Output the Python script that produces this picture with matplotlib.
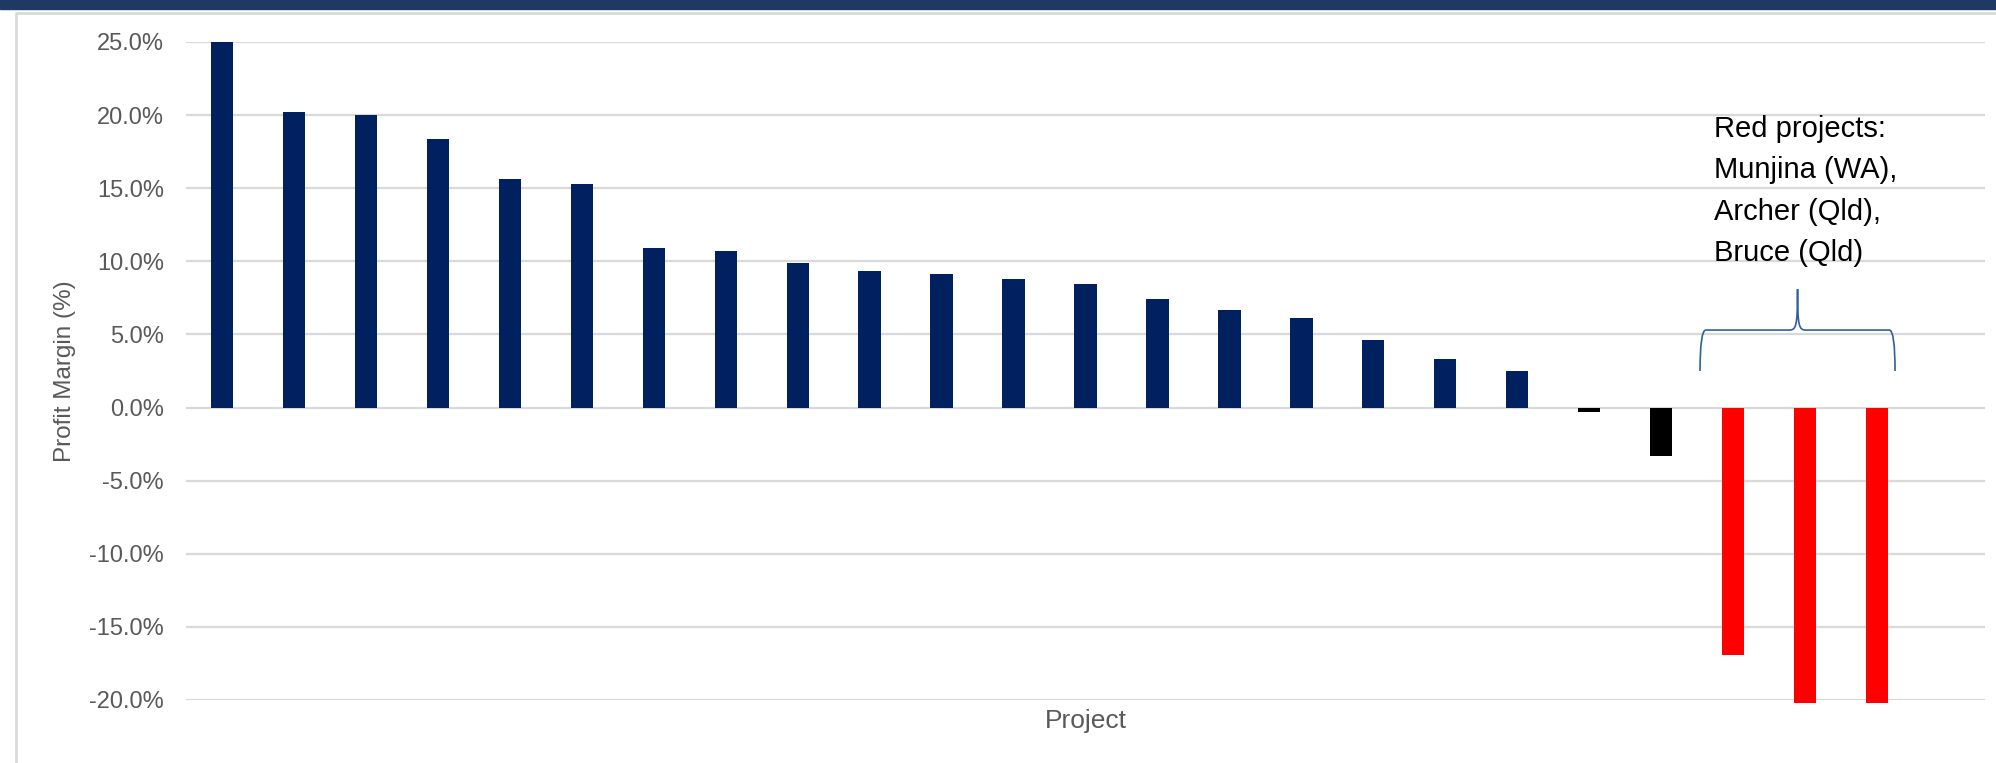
"""Profit margin by project, sorted high to low, red projects bracketed."""

import matplotlib
matplotlib.use("Agg")
import matplotlib.pyplot as plt
import numpy as np
from matplotlib.path import Path as MPath
from matplotlib.patches import PathPatch
from matplotlib.ticker import FuncFormatter, MultipleLocator

plt.rcParams["font.family"] = ["Liberation Sans", "DejaVu Sans"]

# Profit margin (%) per project
margins = [25.0, 20.2, 20.0, 18.4, 15.6, 15.3, 10.9, 10.7, 9.9, 9.35,
           9.1, 8.8, 8.45, 7.4, 6.65, 6.1, 4.65, 3.3, 2.5, -0.3,
           -3.3, -16.9, -20.2, -20.2]
status = ["ok"] * 19 + ["loss"] * 2 + ["red"] * 3
note = "Red projects:\nMunjina (WA),\nArcher (Qld),\nBruce (Qld)"

NAVY, GRID, TXT = "#002060", "#d9d9d9", "#595959"
COLORS = {"ok": NAVY, "loss": "#000000", "red": "#ff0000"}

W, H, DPI = 1996, 763, 100
fig = plt.figure(figsize=(W / DPI, H / DPI), dpi=DPI)

# header band + chart frame
fig.patches.append(plt.Rectangle((0, 1 - 9 / H), 1, 9 / H, transform=fig.transFigure,
                                 color="#1f3864", zorder=0))
fig.lines.append(plt.Line2D([16 / W, 16 / W, 1], [0, 1 - 13 / H, 1 - 13 / H],
                            transform=fig.transFigure, color=GRID, lw=2))

left, right, top, bot = 186, 1985, 42, 700
ax = fig.add_axes([left / W, 1 - bot / H, (right - left) / W, (bot - top) / H])

x = np.arange(len(margins))
ax.bar(x, margins, width=0.31, color=[COLORS[s] for s in status], zorder=3, clip_on=False)

ax.set_xlim(-0.5, len(margins) + 0.5)
ax.set_ylim(-20, 25)
ax.yaxis.set_major_locator(MultipleLocator(5))
ax.yaxis.set_major_formatter(FuncFormatter(lambda v, _: f"{v:.1f}%"))
ax.grid(axis="y", color=GRID, lw=1.6, zorder=0)
ax.set_xticks([])
for sp in ax.spines.values():
    sp.set_visible(False)
ax.tick_params(axis="y", length=0, pad=16, labelsize=17, labelcolor=TXT)

ax.text((65 - left) / (right - left), 0.5, "Profit Margin (%)", transform=ax.transAxes,
        rotation=90, ha="center", va="center", fontsize=17.5, color=TXT)
ax.text(0.5, -0.014, "Project", transform=ax.transAxes, ha="center", va="top",
        fontsize=19, color=TXT)

# curly brace over the red projects
red = [i for i, s in enumerate(status) if s == "red"]
bx0, bx1 = red[0] - 0.46, red[-1] + 0.25
bm = (bx0 + bx1) / 2
ylo, yh, ytip = 2.5, 5.3, 8.1
verts = [(bx0, ylo), (bx0, yh), (bx0 + 0.08, yh),
         (bm - 0.12, yh), (bm - 0.02, yh), (bm, yh + 0.2), (bm, ytip),
         (bm, yh + 0.2), (bm + 0.02, yh), (bm + 0.12, yh),
         (bx1 - 0.08, yh), (bx1, yh), (bx1, ylo)]
codes = [MPath.MOVETO, MPath.CURVE3, MPath.CURVE3,
         MPath.LINETO, MPath.CURVE4, MPath.CURVE4, MPath.CURVE4,
         MPath.CURVE4, MPath.CURVE4, MPath.CURVE4,
         MPath.LINETO, MPath.CURVE3, MPath.CURVE3]
ax.add_patch(PathPatch(MPath(verts, codes), fill=False, ec="#2f5f9f", lw=1.2, zorder=4))

ax.text(red[0] - 0.27, 20.0, note, ha="left", va="top", fontsize=21,
        linespacing=1.6, color="black", zorder=5)

fig.savefig("out.png", dpi=DPI)
